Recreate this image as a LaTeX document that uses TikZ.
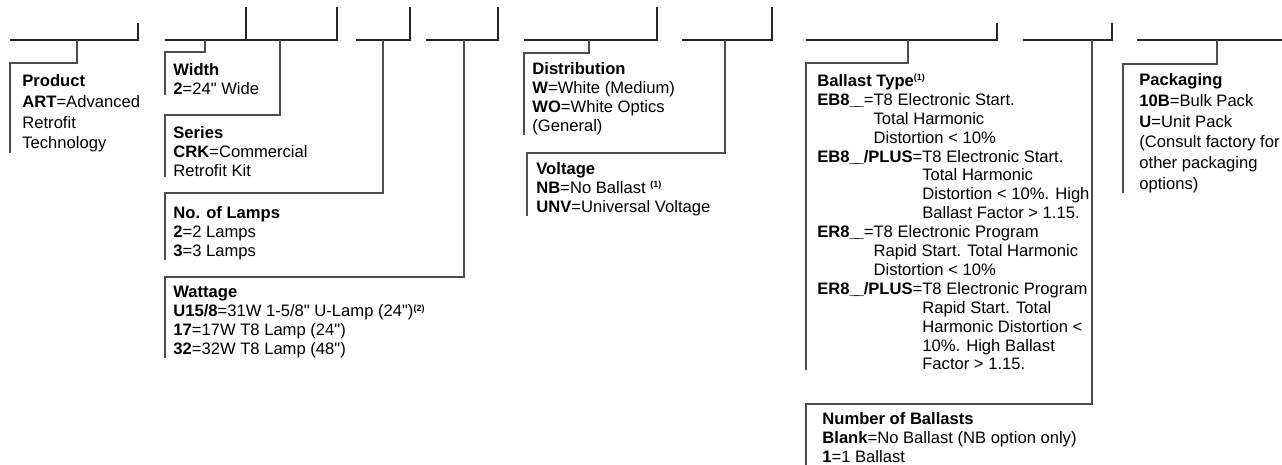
\documentclass[tikz,border=0pt]{standalone}
\usepackage{fontspec}
\setmainfont{Liberation Sans}
\newfontfamily\optfont{Liberation Sans}
\newcommand{\fnote}[1]{\smash{\textsuperscript{\bfseries\fontsize{4.5}{5}\selectfont #1}}}
\newcommand{\uscore}{\_\kern-2.2pt\_}

\begin{document}
\begin{tikzpicture}[x=0.5pt, y=-0.5pt,
    slot/.style={line width=0.6pt, black!85},
    lead/.style={line width=0.6pt, black!70},
    opt/.style={anchor=north west, inner sep=0pt, align=left,
        font=\fontsize{8.3}{9.45}\optfont},
    optwide/.style={opt, font=\fontsize{8.3}{10.4}\optfont}
]
    \useasboundingbox (0,0) rectangle (1282,465);

    % Felder der Bestellnummer
    \draw[slot] (10,40) -- (138,40) -- (138,23);
    \draw[slot] (165,40) -- (337,40) -- (337,7);
    \draw[slot] (246,40) -- (246,7);
    \draw[slot] (356,40) -- (410,40) -- (410,7);
    \draw[slot] (426,40) -- (498,40) -- (498,7);
    \draw[slot] (524,40) -- (657,40) -- (657,7);
    \draw[slot] (682,40) -- (772,40) -- (772,7);
    \draw[slot] (806,40) -- (997,40) -- (997,23);
    \draw[slot] (1023,40) -- (1112,40) -- (1112,23);
    \draw[slot] (1137,40) -- (1282,40);

    \coordinate (sProd) at (77,40);    \coordinate (cProd) at (10,63);
    \coordinate (sWidth) at (205,40);  \coordinate (cWidth) at (165,52);
    \coordinate (sSeries) at (280,40); \coordinate (cSeries) at (165,115);
    \coordinate (sLamps) at (383,40);  \coordinate (cLamps) at (165,193);
    \coordinate (sWatt) at (464,40);   \coordinate (cWatt) at (165,277);
    \coordinate (sDist) at (589,40);   \coordinate (cDist) at (524,53);
    \coordinate (sVolt) at (725,40);   \coordinate (cVolt) at (527,153);
    \coordinate (sBall) at (908,40);   \coordinate (cBall) at (806,63);
    \coordinate (sNum) at (1092,40);   \coordinate (cNum) at (806,404);
    \coordinate (sPack) at (1217,40);  \coordinate (cPack) at (1123,64);

    % Optionen
    \node[optwide] (prod) at (22,74) {\textbf{Product}\\\textbf{ART}=Advanced\\Retrofit\\Technology};
    \node[opt] (width) at (173,63) {\textbf{Width}\\\textbf{2}=24" Wide};
    \node[opt] (series) at (173,126) {\textbf{Series}\\\textbf{CRK}=Commercial\\Retrofit Kit};
    \node[opt] (lamps) at (173,206) {\textbf{No. of Lamps}\\\textbf{2}=2 Lamps\\\textbf{3}=3 Lamps};
    \node[opt] (watt) at (173,286) {\textbf{Wattage}\\
        \textbf{U15/8}=31W 1-5/8" U-Lamp (24")\fnote{(2)}\\
        \textbf{17}=17W T8 Lamp (24")\\
        \textbf{32}=32W T8 Lamp (48")};
    \node[opt] (dist) at (532,62) {\textbf{Distribution}\\\textbf{W}=White (Medium)\\\textbf{WO}=White Optics\\(General)};
    \node[opt] (volt) at (536,162) {\textbf{Voltage}\\\textbf{NB}=No Ballast \fnote{(1)}\\\textbf{UNV}=Universal Voltage};
    \node[opt] (ball) at (817,74) {\textbf{Ballast Type}\fnote{(1)}\\
        \textbf{EB8\uscore}=T8 Electronic Start.\\
        \hphantom{\textbf{EB8\uscore}=}Total Harmonic\\
        \hphantom{\textbf{EB8\uscore}=}Distortion < 10\%\\
        \textbf{EB8\uscore/PLUS}=T8 Electronic Start.\\
        \hphantom{\textbf{EB8\uscore/PLUS}=}Total Harmonic\\
        \hphantom{\textbf{EB8\uscore/PLUS}=}Distortion < 10\%. High\\
        \hphantom{\textbf{EB8\uscore/PLUS}=}Ballast Factor > 1.15.\\
        \textbf{ER8\uscore}=T8 Electronic Program\\
        \hphantom{\textbf{ER8\uscore}=}Rapid Start. Total Harmonic\\
        \hphantom{\textbf{ER8\uscore}=}Distortion < 10\%\\
        \textbf{ER8\uscore/PLUS}=T8 Electronic Program\\
        \hphantom{\textbf{ER8\uscore/PLUS}=}Rapid Start. Total\\
        \hphantom{\textbf{ER8\uscore/PLUS}=}Harmonic Distortion <\\
        \hphantom{\textbf{ER8\uscore/PLUS}=}10\%. High Ballast\\
        \hphantom{\textbf{ER8\uscore/PLUS}=}Factor > 1.15.};
    \node[opt] (num) at (822,412) {\textbf{Number of Ballasts}\\\textbf{Blank}=No Ballast (NB option only)\\\textbf{1}=1 Ballast};
    \node[optwide] (pack) at (1139,73) {\textbf{Packaging}\\\textbf{10B}=Bulk Pack\\\textbf{U}=Unit Pack\\(Consult factory for\\other packaging\\options)};

    % Zuleitungen
    \draw[lead] (sProd) |- (cProd) -- (cProd |- prod.south);
    \draw[lead] (sWidth) |- (cWidth) -- (cWidth |- width.south);
    \draw[lead] (sSeries) |- (cSeries) -- (cSeries |- series.south);
    \draw[lead] (sLamps) |- (cLamps) -- (cLamps |- lamps.south);
    \draw[lead] (sWatt) |- (cWatt) -- (cWatt |- watt.south);
    \draw[lead] (sDist) |- (cDist) -- (cDist |- dist.south);
    \draw[lead] (sVolt) |- (cVolt) -- (cVolt |- volt.south);
    \draw[lead] (sBall) |- (cBall) -- (cBall |- ball.south);
    \draw[lead] (sNum) |- (cNum) -- ([yshift=-2.5pt]cNum |- num.south);
    \draw[lead] (sPack) |- (cPack) -- (cPack |- pack.south);
\end{tikzpicture}
\end{document}
